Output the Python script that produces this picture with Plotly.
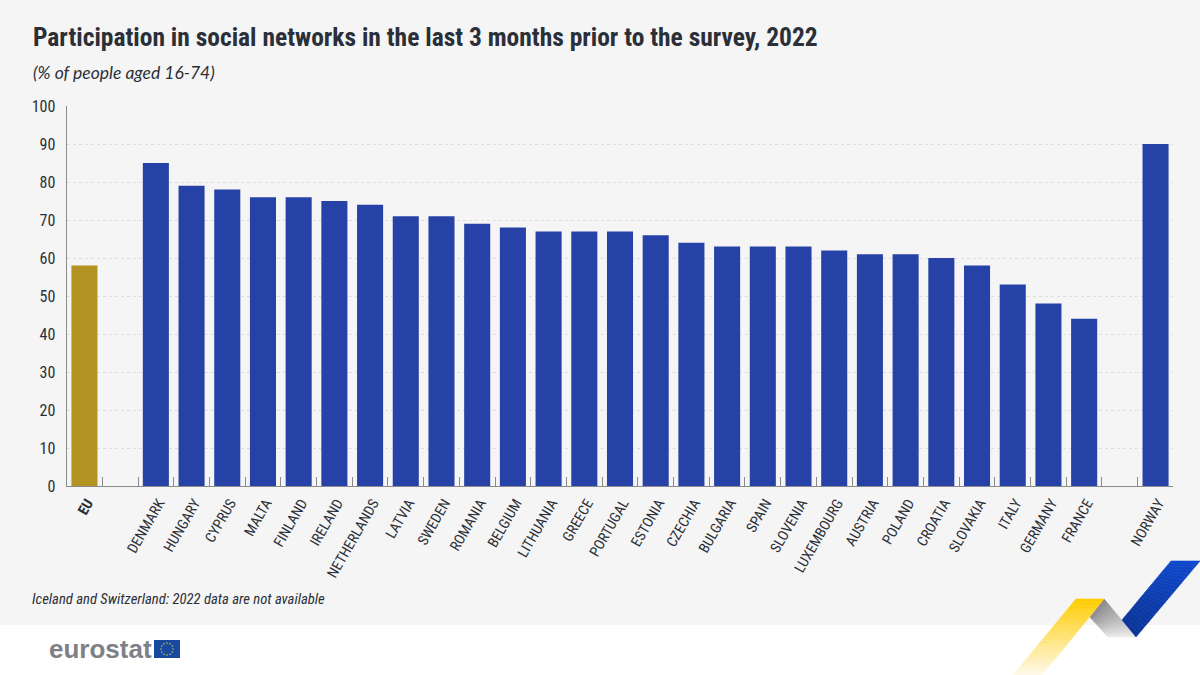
import math

import plotly.graph_objects as go

W, H = 1200, 675

categories = [
    "<b>EU</b>", " ", "DENMARK", "HUNGARY", "CYPRUS", "MALTA", "FINLAND", "IRELAND",
    "NETHERLANDS", "LATVIA", "SWEDEN", "ROMANIA", "BELGIUM", "LITHUANIA", "GREECE",
    "PORTUGAL", "ESTONIA", "CZECHIA", "BULGARIA", "SPAIN", "SLOVENIA", "LUXEMBOURG",
    "AUSTRIA", "POLAND", "CROATIA", "SLOVAKIA", "ITALY", "GERMANY", "FRANCE", "  ", "NORWAY",
]
values = [
    58, None, 85, 79, 78, 76, 76, 75, 74, 71, 71, 69, 68, 67, 67, 67, 66, 64, 63, 63,
    63, 62, 61, 61, 60, 58, 53, 48, 44, None, 90,
]
y_ticks = list(range(0, 101, 10))

NARROW = "Roboto Condensed, DejaVu Sans Condensed, Roboto"
TEXT = "#2b2f38"


def px(x):
    return x / W


def py(y):
    return 1 - y / H


def poly(points, color):
    path = "M " + " L ".join(f"{px(x):.5f},{py(y):.5f}" for x, y in points) + " Z"
    return dict(type="path", xref="paper", yref="paper", path=path,
                fillcolor=color, line=dict(width=0.6, color=color), layer="above")


def ribbon(a0, b0, a1, b1, c0, c1, steps=24):
    # no gradient fill for shapes, so the ribbon is cut into thin strips across its length
    out = []
    for i in range(steps):
        t0, t1 = i / steps, (i + 1) / steps
        pts = []
        for a, b, t in ((a0, b0, t0), (a1, b1, t0), (a1, b1, t1), (a0, b0, t1)):
            pts.append((a[0] + (b[0] - a[0]) * t, a[1] + (b[1] - a[1]) * t))
        m = (t0 + t1) / 2
        col = tuple(round(c0[k] + (c1[k] - c0[k]) * m) for k in range(3))
        out.append(poly(pts, f"rgb{col}"))
    return out


fig = go.Figure(go.Bar(
    x=categories,
    y=values,
    marker_color=["#b39322" if c == "<b>EU</b>" else "#2742a6" for c in categories],
    marker_line_width=0,
    hovertemplate="%{x}: %{y}<extra></extra>",
))

shapes = [
    dict(type="rect", xref="paper", yref="paper", x0=0, x1=1, y0=py(625), y1=1,
         fillcolor="#f5f5f5", line=dict(width=0), layer="below"),
    dict(type="rect", xref="paper", yref="paper", x0=px(154), x1=px(180), y0=py(658), y1=py(640),
         fillcolor="#174a9f", line=dict(width=0), layer="above"),
]
# ring of stars on the flag
for i in range(12):
    ang = math.radians(i * 30)
    cx, cy = 167 + 6 * math.sin(ang), 649 - 6 * math.cos(ang)
    shapes.append(dict(type="circle", xref="paper", yref="paper",
                       x0=px(cx - 0.7), x1=px(cx + 0.7), y0=py(cy + 0.7), y1=py(cy - 0.7),
                       fillcolor="#f3d34a", line=dict(width=0), layer="above"))
shapes += ribbon((1104, 599), (1136, 637), (1090, 617), (1108, 637), (135, 135, 138), (235, 235, 235))
shapes += ribbon((1171, 561), (1122, 620), (1200, 561), (1136, 637), (16, 72, 205), (10, 52, 150))
shapes += ribbon((1076, 599), (1013, 675), (1104, 599), (1042, 675), (255, 204, 0), (255, 250, 235))

fig.update_layout(
    width=W,
    height=H,
    margin=dict(l=0, r=0, t=0, b=0),
    paper_bgcolor="white",
    plot_bgcolor="rgba(0,0,0,0)",
    showlegend=False,
    bargap=0.27,
    font=dict(family=NARROW, color=TEXT),
    shapes=shapes,
    xaxis=dict(
        domain=[px(66.6), px(1173.4)],
        type="category",
        categoryorder="array",
        categoryarray=categories,
        tickson="boundaries",
        ticks="inside",
        ticklen=9,
        tickwidth=1,
        tickcolor="#8a8a8a",
        tickangle=-60,
        ticklabelstandoff=2,
        ticklabelshift=3,
        tickfont=dict(size=14.5, family=NARROW, color=TEXT),
        showline=True,
        linecolor="#8a8a8a",
        linewidth=1,
        showgrid=False,
        automargin=False,
    ),
    yaxis=dict(
        domain=[py(486), py(106)],
        range=[0, 100],
        tickvals=y_ticks,
        ticks="",
        ticklabelstandoff=7,
        tickfont=dict(size=16, family=NARROW, color=TEXT),
        showline=True,
        linecolor="#8a8a8a",
        linewidth=1,
        showgrid=True,
        gridcolor="#dedede",
        griddash="dot",
        gridwidth=1,
        zeroline=False,
        automargin=False,
    ),
    annotations=[
        dict(text="<b>Participation in social networks in the last 3 months prior to the survey, 2022</b>",
             xref="paper", yref="paper", x=px(31), y=py(37), xanchor="left", yanchor="middle",
             showarrow=False, font=dict(size=25.5, family=NARROW, color=TEXT)),
        dict(text="<i>(% of people aged 16-74)</i>",
             xref="paper", yref="paper", x=px(31), y=py(73), xanchor="left", yanchor="middle",
             showarrow=False, font=dict(size=17.5, family="Lato", color=TEXT)),
        dict(text="<i>Iceland and Switzerland: 2022 data are not available</i>",
             xref="paper", yref="paper", x=px(30), y=py(599), xanchor="left", yanchor="middle",
             showarrow=False, font=dict(size=14.7, family=NARROW, color=TEXT)),
        dict(text="<b>eurostat</b>",
             xref="paper", yref="paper", x=px(47), y=py(649), xanchor="left", yanchor="middle",
             showarrow=False, font=dict(size=26, family="Liberation Sans", color="#7d8086")),
    ],
)

# the page's default body margin would push the figure 8px off
fig.write_html("out.html", config={"displayModeBar": False},
               post_script="document.body.style.margin = '0';")
